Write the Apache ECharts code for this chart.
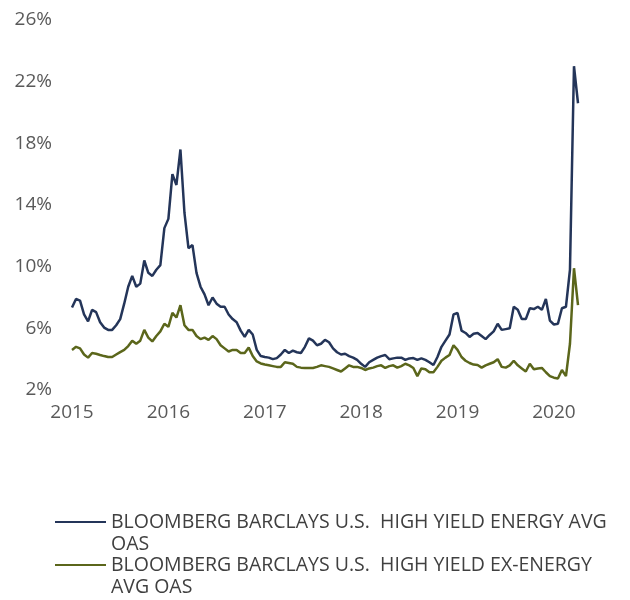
<!DOCTYPE html>
<html>
<head>
<meta charset="utf-8">
<script src="https://cdn.jsdelivr.net/npm/echarts@6/dist/echarts.min.js"></script>
<style>
  html, body { margin: 0; padding: 0; background: #fff; }
  #chart { width: 630px; height: 600px; }
</style>
</head>
<body>
<div id="chart"></div>
<script>
// half-month observation dates, 2015-01-01 .. 2020-04-01
const dates = []
for (let i = 0; i <= 126; i++) {
  const y = 2015 + Math.floor(i / 24)
  const m = Math.floor((i % 24) / 2) + 1
  const d = i % 2 ? 16 : 1
  dates.push(y + '-' + String(m).padStart(2, '0') + '-' + String(d).padStart(2, '0'))
}

const seriesNames = [
  'BLOOMBERG BARCLAYS U.S.  HIGH YIELD ENERGY AVG\nOAS',
  'BLOOMBERG BARCLAYS U.S.  HIGH YIELD EX-ENERGY\nAVG OAS'
]

// option-adjusted spread, %
const energyOas = [
  7.35, 7.9, 7.8, 6.9, 6.45, 7.2, 7.05, 6.4, 6.05, 5.9, 5.9, 6.2,
  6.6, 7.6, 8.7, 9.4, 8.7, 8.9, 10.4, 9.6, 9.4, 9.8, 10.1, 12.5,
  13.1, 16.0, 15.3, 17.6, 13.5, 11.2, 11.4, 9.6, 8.7, 8.2, 7.5, 8.0,
  7.6, 7.4, 7.4, 6.9, 6.6, 6.4, 5.85, 5.45, 5.9, 5.6, 4.6, 4.2,
  4.14, 4.1, 4.0, 4.07, 4.3, 4.6, 4.4, 4.55, 4.45, 4.4, 4.8, 5.35,
  5.2, 4.9, 5.0, 5.25, 5.1, 4.7, 4.45, 4.3, 4.35, 4.2, 4.1, 3.95,
  3.7, 3.5, 3.8, 3.95, 4.1, 4.2, 4.27, 4.0, 4.05, 4.1, 4.1, 3.95,
  4.05, 4.07, 3.95, 4.05, 3.95, 3.8, 3.62, 4.14, 4.8, 5.2, 5.6, 6.9,
  7.0, 5.85, 5.7, 5.44, 5.65, 5.7, 5.5, 5.3, 5.57, 5.8, 6.3, 5.9,
  5.95, 6.0, 7.4, 7.2, 6.6, 6.6, 7.3, 7.25, 7.4, 7.2, 7.9, 6.5,
  6.25, 6.3, 7.3, 7.4, 9.8, 23.0, 20.6
]
const exEnergyOas = [
  4.6, 4.8, 4.7, 4.3, 4.1, 4.4, 4.35, 4.27, 4.2, 4.14, 4.14, 4.3,
  4.46, 4.6, 4.85, 5.2, 5.0, 5.2, 5.9, 5.4, 5.15, 5.5, 5.8, 6.3,
  6.1, 7.0, 6.7, 7.5, 6.2, 5.9, 5.9, 5.5, 5.3, 5.4, 5.25, 5.5,
  5.3, 4.9, 4.7, 4.5, 4.6, 4.6, 4.4, 4.4, 4.75, 4.2, 3.85, 3.72,
  3.65, 3.6, 3.55, 3.5, 3.5, 3.8, 3.75, 3.7, 3.5, 3.45, 3.43, 3.43,
  3.43, 3.5, 3.6, 3.55, 3.5, 3.4, 3.3, 3.2, 3.4, 3.6, 3.5, 3.5,
  3.43, 3.3, 3.4, 3.45, 3.55, 3.6, 3.43, 3.55, 3.6, 3.45, 3.55, 3.7,
  3.6, 3.43, 2.9, 3.4, 3.35, 3.15, 3.15, 3.5, 3.9, 4.1, 4.27, 4.9,
  4.6, 4.14, 3.9, 3.75, 3.65, 3.62, 3.45, 3.6, 3.7, 3.8, 4.0, 3.5,
  3.45, 3.6, 3.9, 3.6, 3.4, 3.2, 3.7, 3.35, 3.4, 3.43, 3.15, 2.9,
  2.8, 2.75, 3.3, 2.9, 5.0, 9.9, 7.5
]

const colors = ['#243559', '#5b661b']

// date string -> decimal year for the value axis
function toYear(s) {
  const p = s.split('-').map(Number)
  return p[0] + (p[1] - 1 + (p[2] - 1) / 30) / 12
}

function pairs(values) {
  return values.map((v, i) => [toYear(dates[i]), v])
}

const chart = echarts.init(document.getElementById('chart'))
chart.setOption({
  animation: false,
  color: colors,
  textStyle: { fontFamily: '"Open Sans", sans-serif' },
  grid: { left: 72, right: 52, top: 20, bottom: 210, containLabel: false },
  xAxis: {
    type: 'value',
    min: 2015,
    max: toYear(dates[dates.length - 1]),
    interval: 1,
    axisLine: { show: false },
    axisTick: { show: false },
    splitLine: { show: false },
    axisLabel: {
      color: '#595959',
      fontSize: 19,
      margin: 13,
      showMaxLabel: false,
      formatter: v => (Number.isInteger(v) ? String(v) : '')
    }
  },
  yAxis: {
    type: 'value',
    min: 2,
    max: 26,
    interval: 4,
    axisLine: { show: false },
    axisTick: { show: false },
    splitLine: { show: false },
    axisLabel: { color: '#595959', fontSize: 19, margin: 20, formatter: '{value}%' }
  },
  legend: {
    orient: 'vertical',
    left: 55,
    top: 489,
    padding: 0,
    itemGap: -23,
    icon: 'rect',
    itemWidth: 51,
    itemHeight: 2,
    // blank first line keeps the icon level with the first text line
    formatter: name => '\n' + name,
    textStyle: { color: '#404040', fontSize: 19.5, lineHeight: 22 },
    data: seriesNames
  },
  series: [
    {
      name: seriesNames[0],
      type: 'line',
      symbol: 'none',
      lineStyle: { width: 2.5 },
      data: pairs(energyOas)
    },
    {
      name: seriesNames[1],
      type: 'line',
      symbol: 'none',
      lineStyle: { width: 2.5 },
      data: pairs(exEnergyOas)
    }
  ]
})
</script>
</body>
</html>
